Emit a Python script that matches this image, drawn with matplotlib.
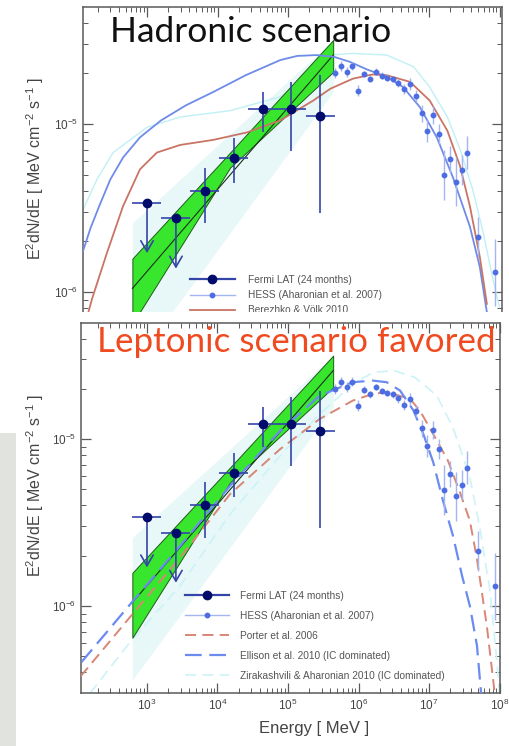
import numpy as np
import matplotlib
matplotlib.use("Agg")
import matplotlib.pyplot as plt
from matplotlib.lines import Line2D
from matplotlib.patches import Rectangle
from matplotlib.ticker import LogLocator, LogFormatterMathtext, NullFormatter

plt.rcParams['lines.scale_dashes'] = False
plt.rcParams['mathtext.fontset'] = 'custom'
plt.rcParams['mathtext.rm'] = 'Liberation Sans'
plt.rcParams['mathtext.it'] = 'Liberation Sans'
plt.rcParams['font.family'] = ['Liberation Sans', 'DejaVu Sans']

# ---------------- data ----------------
# Fermi LAT (24 months): bin centres, bin edges, flux and 1-sigma range
fermi_e = [1.0e3, 2.57e3, 6.6e3, 1.7e4, 4.37e4, 1.12e5, 2.88e5]
fermi_e_lo = [6.2e2, 1.6e3, 4.1e3, 1.06e4, 2.72e4, 7.0e4, 1.8e5]
fermi_e_hi = [1.6e3, 4.1e3, 1.06e4, 2.72e4, 7.0e4, 1.8e5, 4.62e5]
fermi_f = [3.4e-6, 2.75e-6, 4.0e-6, 6.3e-6, 1.23e-5, 1.23e-5, 1.12e-5]
fermi_f_lo = [3.4e-6, 2.75e-6, 2.57e-6, 4.47e-6, 8.9e-6, 6.9e-6, 2.95e-6]
fermi_f_hi = [3.4e-6, 2.75e-6, 5.5e-6, 8.3e-6, 1.55e-5, 1.78e-5, 1.95e-5]
fermi_ul = [True, True, False, False, False, False, False]

# Fermi power-law fit: statistical (green) and systematic (pale) bands
band_e = [6.2e2, 1.51e4, 4.37e5]
band_up = [1.58e-6, 6.76e-6, 3.16e-5]
band_lo = [6.46e-7, 5.50e-6, 2.04e-5]
fit_e = [6.2e2, 4.37e5]
fit_f = [1.05e-6, 2.57e-5]
syst_e = [6.2e2, 4.37e5]
syst_up = [2.57e-6, 3.16e-5]
syst_lo = [3.6e-7, 1.55e-5]

# HESS (Aharonian et al. 2007)
hess_e = [4.65e5, 5.58e5, 6.81e5, 8.17e5, 9.93e5, 1.20e6, 1.46e6, 1.77e6, 2.13e6,
          2.56e6, 3.05e6, 3.66e6, 4.47e6, 5.37e6, 6.55e6, 7.87e6, 9.46e6, 1.15e7,
          1.39e7, 1.65e7, 1.99e7, 2.39e7, 2.91e7, 3.49e7, 5.00e7, 8.63e7]
hess_f = [2.00e-5, 2.21e-5, 2.05e-5, 2.21e-5, 1.58e-5, 1.98e-5, 1.85e-5, 2.05e-5, 1.94e-5,
          1.89e-5, 1.85e-5, 1.75e-5, 1.61e-5, 1.73e-5, 1.47e-5, 1.16e-5, 9.1e-6, 1.13e-5,
          8.7e-6, 4.97e-6, 6.17e-6, 4.54e-6, 5.32e-6, 6.75e-6, 2.13e-6, 1.31e-6]
hess_err_dex = [0.03, 0.03, 0.03, 0.025, 0.033, 0.02, 0.02, 0.02, 0.02, 0.02, 0.02, 0.025,
                0.03, 0.035, 0.035, 0.05, 0.065, 0.055, 0.06, 0.15, 0.08, 0.145, 0.09,
                0.10, 0.12, 0.20]

# Hadronic models (upper panel)
had_blue_e = [1.23e2, 1.58e2, 2.14e2, 3.02e2, 4.57e2, 7.94e2, 1.58e3, 3.55e3, 8.71e3,
              2.51e4, 7.76e4, 1.35e5, 2.51e5, 4.47e5, 7.59e5, 1.32e6, 2.51e6, 4.27e6,
              7.41e6, 1.29e7, 2.19e7, 3.80e7, 5.25e7, 6.61e7]
had_blue_f = [1.74e-6, 2.40e-6, 3.31e-6, 4.68e-6, 6.31e-6, 8.32e-6, 1.05e-5, 1.29e-5,
              1.55e-5, 1.95e-5, 2.40e-5, 2.54e-5, 2.57e-5, 2.51e-5, 2.34e-5, 2.11e-5,
              1.91e-5, 1.66e-5, 1.26e-5, 8.32e-6, 4.79e-6, 2.45e-6, 1.41e-6, 7.6e-7]
had_red_e = [1.45e2, 1.66e2, 2.69e2, 4.57e2, 7.94e2, 1.38e3, 2.95e3, 8.71e3, 2.63e4,
             7.76e4, 2.29e5, 3.98e5, 8.32e5, 1.58e6, 2.51e6, 5.37e6, 1.02e7, 1.82e7,
             2.75e7, 3.80e7, 5.25e7, 6.61e7]
had_red_f = [7.4e-7, 9.1e-7, 1.70e-6, 3.24e-6, 5.37e-6, 6.76e-6, 7.50e-6, 8.04e-6, 8.91e-6,
             1.05e-5, 1.38e-5, 1.62e-5, 1.86e-5, 1.97e-5, 1.95e-5, 1.78e-5, 1.38e-5,
             9.12e-6, 5.62e-6, 3.24e-6, 1.62e-6, 8.5e-7]
had_cyan_e = [1.12e2, 1.95e2, 3.31e2, 1.0e3, 2.95e3, 1.51e4, 7.76e4, 2.29e5, 3.98e5,
              8.32e5, 2.51e6, 6.03e6, 1.02e7, 1.82e7, 2.75e7, 4.17e7, 5.89e7, 8.13e7,
              1.0e8]
had_cyan_f = [2.82e-6, 4.68e-6, 6.76e-6, 9.55e-6, 1.10e-5, 1.20e-5, 1.45e-5, 1.91e-5,
              2.57e-5, 2.63e-5, 2.57e-5, 2.19e-5, 1.66e-5, 1.10e-5, 7.08e-6, 4.07e-6,
              2.24e-6, 1.17e-6, 8.1e-7]

# Leptonic (IC dominated) models (lower panel)
porter_e = [1.15e2, 6.17e2, 2.95e3, 1.51e4, 7.76e4, 2.82e5, 8.32e5, 1.58e6, 2.51e6,
            5.37e6, 7.41e6, 1.02e7, 1.86e7, 2.75e7, 3.80e7, 4.79e7, 6.61e7, 8.13e7, 8.71e7]
porter_f = [3.8e-7, 8.9e-7, 1.95e-6, 4.68e-6, 8.71e-6, 1.32e-5, 1.70e-5, 1.86e-5, 1.91e-5,
            1.74e-5, 1.48e-5, 1.17e-5, 7.41e-6, 4.79e-6, 3.24e-6, 1.91e-6, 7.6e-7, 3.6e-7,
            2.8e-7]
ellison_e = [1.17e2, 6.31e2, 2.95e3, 1.51e4, 7.76e4, 2.82e5, 8.32e5, 1.58e6, 2.51e6,
             3.89e6, 6.03e6, 8.32e6, 1.15e7, 1.58e7, 2.19e7, 2.95e7, 3.80e7, 4.79e7, 5.50e7]
ellison_f = [4.6e-7, 1.07e-6, 2.29e-6, 5.25e-6, 1.12e-5, 1.82e-5, 2.19e-5, 2.24e-5, 2.19e-5,
             1.95e-5, 1.48e-5, 1.07e-5, 7.24e-6, 4.27e-6, 2.63e-6, 1.51e-6, 1.0e-6, 5.8e-7,
             2.95e-7]
zira_e = [1.55e2, 6.17e2, 2.95e3, 1.51e4, 7.76e4, 2.82e5, 8.32e5, 1.62e6, 3.16e6, 6.31e6,
          1.29e7, 2.19e7, 3.80e7, 5.25e7, 7.41e7, 9.12e7, 1.0e8]
zira_f = [3.0e-7, 6.3e-7, 1.32e-6, 3.55e-6, 7.94e-6, 1.41e-5, 2.14e-5, 2.51e-5, 2.57e-5,
          2.34e-5, 1.82e-5, 1.17e-5, 5.89e-6, 2.95e-6, 1.20e-6, 4.8e-7, 3.0e-7]

# ---------------- layout ----------------
W, H, DPI = 510, 746, 100


def px_box(left, top, right, bottom):
    return [left / W, 1 - bottom / H, (right - left) / W, (bottom - top) / H]


fig = plt.figure(figsize=(W / DPI, H / DPI), dpi=DPI)
fig.patch.set_facecolor('white')

ax1 = fig.add_axes(px_box(83, 7, 502, 312))
ax2 = fig.add_axes(px_box(81, 323, 500, 693))
ax2.set_zorder(10)

ax1.set_xlim(10 ** 2.092, 10 ** 8.035)
ax1.set_ylim(10 ** -6.119, 10 ** -4.304)
ax2.set_xlim(10 ** 2.064, 10 ** 8.007)
ax2.set_ylim(10 ** -6.521, 10 ** -4.305)

C_FERMI = '#000b6b'
C_FERMI_BAR = '#3445aa'
C_HESS = '#4d6de2'
C_HESS_BAR = '#a3b6f2'
SPINE = '#5a5a5a'

for ax in (ax1, ax2):
    ax.set_xscale('log')
    ax.set_yscale('log')
    ax.set_facecolor('white')
    for s in ax.spines.values():
        s.set_color(SPINE)
        s.set_linewidth(1.1)
    ax.xaxis.set_major_locator(LogLocator(base=10, numticks=20))
    ax.xaxis.set_minor_locator(LogLocator(base=10, subs=np.arange(2, 10), numticks=50))
    ax.yaxis.set_major_locator(LogLocator(base=10, numticks=20))
    ax.yaxis.set_minor_locator(LogLocator(base=10, subs=np.arange(2, 10), numticks=50))
    ax.xaxis.set_major_formatter(LogFormatterMathtext())
    ax.yaxis.set_major_formatter(LogFormatterMathtext())
    ax.xaxis.set_minor_formatter(NullFormatter())
    ax.yaxis.set_minor_formatter(NullFormatter())
    ax.tick_params(which='both', direction='in', top=True, right=True,
                   color=SPINE, labelcolor='#444444', labelsize=8.5)
    ax.tick_params(which='major', length=7, width=0.9)
    ax.tick_params(which='minor', length=3.5, width=0.7)

    # systematic and statistical bands of the power-law fit
    ax.fill_between(syst_e, syst_lo, syst_up, color='#e8f7f7', lw=0, zorder=1)
    ax.fill_between(band_e, band_lo, band_up, facecolor='#39e62e',
                    edgecolor='#1f5a1a', lw=0.7, zorder=3)
    ax.plot(fit_e, fit_f, color='#153315', lw=0.8, zorder=3.5)

    # HESS
    hf = np.array(hess_f)
    he = np.array(hess_err_dex)
    ax.errorbar(hess_e, hess_f, yerr=[hf - hf * 10 ** -he, hf * 10 ** he - hf],
                fmt='o', ms=3.2, mfc=C_HESS, mec=C_HESS, ecolor=C_HESS_BAR,
                elinewidth=1.0, capsize=0, zorder=6)

    # Fermi LAT
    fe = np.array(fermi_e)
    ff = np.array(fermi_f)
    ul = np.array(fermi_ul)
    det = ~ul
    ax.errorbar(fe[det], ff[det],
                xerr=[fe[det] - np.array(fermi_e_lo)[det], np.array(fermi_e_hi)[det] - fe[det]],
                yerr=[ff[det] - np.array(fermi_f_lo)[det], np.array(fermi_f_hi)[det] - ff[det]],
                fmt='o', ms=6, mfc=C_FERMI, mec=C_FERMI, ecolor=C_FERMI_BAR,
                elinewidth=1.2, capsize=0, zorder=7)
    ax.errorbar(fe[ul], ff[ul],
                xerr=[fe[ul] - np.array(fermi_e_lo)[ul], np.array(fermi_e_hi)[ul] - fe[ul]],
                fmt='o', ms=6, mfc=C_FERMI, mec=C_FERMI, ecolor=C_FERMI_BAR,
                elinewidth=1.2, capsize=0, zorder=7)
    for e, f in zip(fe[ul], ff[ul]):
        ax.annotate('', xy=(e, f * 10 ** -0.3), xytext=(e, f),
                    arrowprops=dict(arrowstyle='->,head_length=0.55,head_width=0.32',
                                    color=C_FERMI_BAR, lw=1.2, shrinkA=0, shrinkB=0,
                                    mutation_scale=14), zorder=7)

# upper panel: hadronic models
ax1.plot(had_blue_e, had_blue_f, color='#6f8be8', lw=1.3, zorder=4)
ax1.plot(had_red_e, had_red_f, color='#c97464', lw=1.3, zorder=4)
ax1.plot(had_cyan_e, had_cyan_f, color='#c0f0f5', lw=1.0, zorder=2)

ax1.spines['bottom'].set_visible(False)
ax1.tick_params(axis='x', which='both', bottom=False, labelbottom=False)

# lower panel: leptonic models
ax2.plot(porter_e, porter_f, color='#d88676', lw=1.4, dashes=(8, 4.5), zorder=4)
ax2.plot(ellison_e, ellison_f, color='#6c8bf0', lw=1.6, dashes=(12, 5.5), zorder=4)
ax2.plot(zira_e, zira_f, color='#cdf3f7', lw=1.2, dashes=(8, 4.5), zorder=2)

# legends
fermi_h = Line2D([], [], color=C_FERMI_BAR, lw=1.6, marker='o', ms=6,
                 mfc=C_FERMI, mec=C_FERMI)
hess_h = Line2D([], [], color=C_HESS_BAR, lw=1.0, marker='o', ms=3.2,
                mfc=C_HESS, mec=C_HESS)
leg_font = dict(family='Liberation Sans', size=7.3)

ax1.legend([fermi_h, hess_h, Line2D([], [], color='#c97464', lw=1.3)],
           ['Fermi LAT (24 months)', 'HESS (Aharonian et al. 2007)', 'Berezhko & Völk 2010'],
           loc='upper left', bbox_to_anchor=(190 / W, 1 - 275 / H),
           bbox_transform=fig.transFigure, frameon=False, prop=leg_font,
           handlelength=4.4, handletextpad=1.3, labelspacing=0.5, borderpad=0,
           borderaxespad=0, numpoints=1, labelcolor='#555555')

ax2.legend([fermi_h, hess_h,
            Line2D([], [], color='#d88676', lw=1.4, dashes=(8, 4.5)),
            Line2D([], [], color='#6c8bf0', lw=1.6, dashes=(12, 5.5)),
            Line2D([], [], color='#cdf3f7', lw=1.2, dashes=(8, 4.5))],
           ['Fermi LAT (24 months)', 'HESS (Aharonian et al. 2007)', 'Porter et al. 2006',
            'Ellison et al. 2010 (IC dominated)', 'Zirakashvili & Aharonian 2010 (IC dominated)'],
           loc='upper left', bbox_to_anchor=(185 / W, 1 - 591 / H),
           bbox_transform=fig.transFigure, frameon=False, prop=leg_font,
           handlelength=4.3, handletextpad=1.1, labelspacing=0.98, borderpad=0,
           borderaxespad=0, numpoints=1, labelcolor='#555555')

# gap between the two panels
fig.patches.append(Rectangle((0, 1 - 323 / H), 1, 11 / H, transform=fig.transFigure,
                             facecolor='white', edgecolor='none', zorder=5))
fig.patches.append(Rectangle((0, 0), 16 / W, 1 - 433 / H, transform=fig.transFigure,
                             facecolor='#e1e4de', edgecolor='none', zorder=0))

# axis labels
ylab = r'E$^2$dN/dE [ MeV cm$^{-2}$ s$^{-1}$ ]'
fig.text(35 / W, 1 - 168 / H, ylab, rotation=90, ha='center', va='center',
         fontsize=11.5, color='#444444')
fig.text(35 / W, 1 - 485 / H, ylab, rotation=90, ha='center', va='center',
         fontsize=11.5, color='#444444', zorder=20)
fig.text(314 / W, 1 - 728 / H, 'Energy [ MeV ]', ha='center', va='center',
         fontsize=12, color='#444444', zorder=20)

# panel titles
fig.text(110 / W, 1 - 42 / H, 'Hadronic scenario', ha='left', va='baseline',
         fontsize=25.5, family='Lato', color='#111111', zorder=20)
fig.text(97 / W, 1 - 352 / H, 'Leptonic scenario favored', ha='left', va='baseline',
         fontsize=25.2, family='Lato', color='#f04a20', zorder=20)
# citation line running off the top edge
fig.text(63 / W, 1 - 0.5 / H, 'Abdo et al. 2011', ha='left', va='baseline',
         fontsize=20, family='Lato', color='#333333', zorder=20)

fig.savefig('out.png', dpi=DPI, facecolor='white')
